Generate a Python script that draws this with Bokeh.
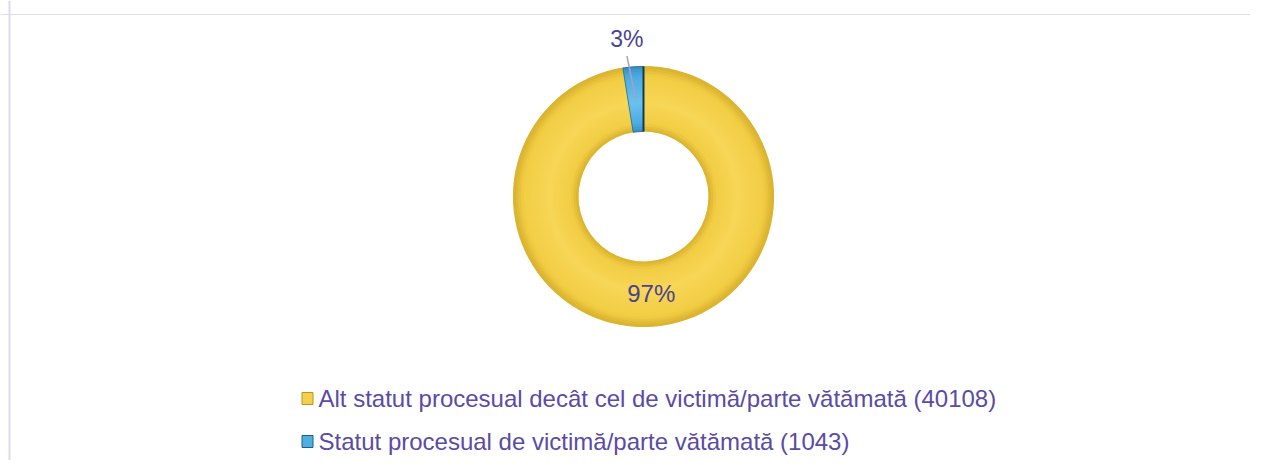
import math
from bokeh.plotting import figure
from bokeh.models import Range1d, Span, ColumnDataSource
from bokeh.core.properties import value
from bokeh.embed import file_html
from bokeh.resources import INLINE

categories = ["Alt statut procesual decât cel de victimă/parte vătămată", "Statut procesual de victimă/parte vătămată"]
counts = [40108, 1043]
pct_labels = ["97%", "3%"]
colors = ["#F4D048", "#4DAEE0"]
edge_colors = ["#B8961E", "#1E5E86"]

W, H = 1250, 460
p = figure(width=W, height=H, output_backend="svg", toolbar_location=None,
           x_range=Range1d(0, W), y_range=Range1d(0, H), min_border=0)
p.axis.visible = False
p.grid.visible = False
p.outline_line_color = None
p.background_fill_color = "white"


def fy(py):
    # screen offset from top -> data y
    return H - py


border = "#DDD9EE"
p.add_layout(Span(location=9, dimension="height", line_color=border, line_width=2))
p.add_layout(Span(location=fy(14), dimension="width", line_color=border, line_width=1))

cx, cy = 643, fy(196)
r_out, r_in = 130, 65
total = sum(counts)

# slices clockwise from 12 o'clock
starts, ends, mids = [], [], []
acc = 0.0
for c in counts:
    frac = c / total
    a0 = math.pi / 2 - (acc + frac) * 2 * math.pi
    a1 = math.pi / 2 - acc * 2 * math.pi
    starts.append(a0); ends.append(a1); mids.append((a0 + a1) / 2)
    acc += frac


def mix(c1, c2, t):
    a = [int(c1[i:i + 2], 16) for i in (1, 3, 5)]
    b = [int(c2[i:i + 2], 16) for i in (1, 3, 5)]
    return "#%02x%02x%02x" % tuple(round(a[k] + (b[k] - a[k]) * t) for k in range(3))


def shaded_ring(a0, a1, base, dark, light):
    n = 26
    step = (r_out - r_in) / n
    for k in range(n):
        t = (k + 0.5) / n  # 0 inner -> 1 outer
        if t < 0.12:
            col = mix(dark, base, t / 0.12)
        elif t < 0.45:
            col = mix(base, light, (t - 0.12) / 0.33)
        elif t < 0.85:
            col = mix(light, base, (t - 0.45) / 0.40)
        else:
            col = mix(base, dark, (t - 0.85) / 0.15)
        p.annular_wedge(x=cx, y=cy, inner_radius=r_in + k * step, outer_radius=r_in + (k + 1) * step + 0.6,
                        start_angle=a0, end_angle=a1, fill_color=col, line_color=None)


src = ColumnDataSource(dict(start=starts, end=ends, color=colors, edge=edge_colors))
p.annular_wedge(x=cx, y=cy, inner_radius=r_in, outer_radius=r_out, start_angle="start",
                end_angle="end", fill_color="color", line_color=None, source=src)
shaded_ring(starts[0], ends[0], "#F2CD44", "#D8B02E", "#F7D757")
shaded_ring(starts[1], ends[1], "#4CABDF", "#3A8EC0", "#6CC2EE")
p.annular_wedge(x=cx, y=cy, inner_radius=r_in, outer_radius=r_out, start_angle=starts[1],
                end_angle=ends[1], fill_color=None, line_color="#2A6A90", line_width=0.8)
p.segment(x0=cx, y0=cy + r_in, x1=cx, y1=cy + r_out, line_color="#123A55", line_width=2)

txt_col = "#4A4292"
# 97% label inside ring
r_mid = (r_in + r_out) / 2
p.text(x=[cx + r_mid * math.cos(mids[0])], y=[cy + r_mid * math.sin(mids[0])], text=[pct_labels[0]],
       text_align="center", text_baseline="middle", text_font=value("Liberation Sans"),
       text_font_size="24px", text_color=txt_col)
# 3% label outside with leader line
r_lab = 158
lx = cx + r_lab * math.cos(mids[1]) - 4
ly = cy + r_lab * math.sin(mids[1])
p.text(x=[lx], y=[ly], text=[pct_labels[1]], text_align="center", text_baseline="middle",
       text_font=value("Liberation Sans"), text_font_size="23px", text_color=txt_col)
p.segment(x0=lx, y0=ly - 17, x1=cx + 98 * math.cos(mids[1]), y1=cy + 98 * math.sin(mids[1]),
          line_color="#A99CD2", line_width=1.5)

# legend
leg_x, leg_y0, leg_dy = 307, fy(398), 43
legend_labels = [f"{c} ({n})" for c, n in zip(categories, counts)]
ys = [leg_y0 - i * leg_dy for i in range(len(categories))]
p.rect(x=[leg_x] * len(ys), y=ys, width=11, height=12, fill_color=colors, line_color=edge_colors, line_width=1)
p.text(x=[leg_x + 11] * len(ys), y=ys, text=legend_labels, text_baseline="middle",
       text_font=value("Liberation Sans"), text_font_size="24px", text_color="#5A4BA5")

open("out.html", "w").write(file_html(p, INLINE))
